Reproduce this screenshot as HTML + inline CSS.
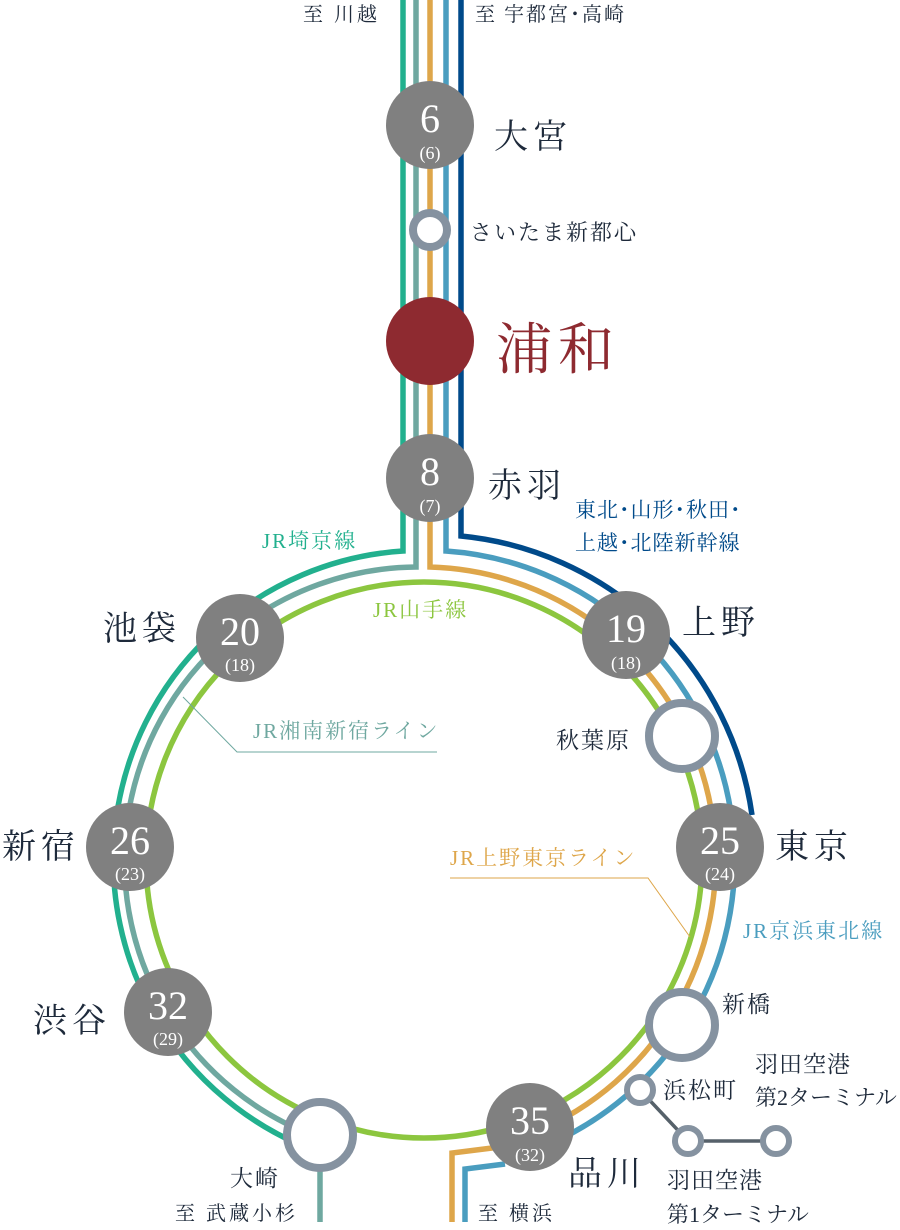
<!DOCTYPE html>
<html><head><meta charset="utf-8"><style>
html,body{margin:0;padding:0;background:#fff;}
svg{display:block;}
text{font-family:"Liberation Serif","Noto Serif CJK JP","Noto Serif CJK SC",serif;}
.st{fill:#1e2a3b;font-size:34px;letter-spacing:5px;}
.sm{fill:#1e2a3b;font-size:21px;letter-spacing:2px;}
.num{fill:#fff;font-size:40px;text-anchor:middle;}
.par{fill:#fff;font-size:18px;text-anchor:middle;}
</style></head><body>
<svg width="900" height="1230" viewBox="0 0 900 1230" xmlns="http://www.w3.org/2000/svg">
<g fill="none" stroke-width="5.5">
 <path d="M403,0 V551 A310,310 0 0 0 327,1155" stroke="#22b08e"/>
 <path d="M416,0 V567 A294,294 0 0 0 320,1138" stroke="#6fa8a0"/>
 <path d="M430,0 V567 A294,294 0 0 1 533,1133" stroke="#dea64a"/>
 <path d="M446,0 V551 A310,310 0 0 1 540,1148" stroke="#4a9dbf"/>
 <path d="M461,0 V536 A326,326 0 0 1 752,815" stroke="#004a8a"/>
 <circle cx="424" cy="860" r="278" stroke="#8cc63f"/>
 <path d="M500,1147 L452,1153 V1222" stroke="#dea64a"/>
 <path d="M505,1164 L465,1169 V1222" stroke="#4a9dbf"/>
 <path d="M320,1135 V1222" stroke="#6fa8a0"/>
 <path d="M640,1090 L688,1141 H776" stroke="#56616a" stroke-width="3.5"/>
 <path d="M437,752 H237 L183,697" stroke="#6fa8a0" stroke-width="1"/>
 <path d="M450,878 H648 L690,937" stroke="#dea64a" stroke-width="1"/>
</g>
<g fill="#fff" stroke="#8592a0" stroke-width="8">
 <circle cx="430" cy="230" r="17"/>
 <circle cx="682" cy="736" r="33"/>
 <circle cx="682" cy="1025" r="33"/>
 <circle cx="320" cy="1135" r="33"/>
 <circle cx="640" cy="1090" r="13" stroke-width="6"/>
 <circle cx="688" cy="1141" r="13" stroke-width="6"/>
 <circle cx="776" cy="1141" r="13" stroke-width="6"/>
</g>
<g fill="#808080">
 <circle cx="430" cy="125" r="44"/>
 <circle cx="430" cy="478" r="44"/>
 <circle cx="240" cy="638" r="44"/>
 <circle cx="626" cy="635" r="44"/>
 <circle cx="130" cy="847" r="44"/>
 <circle cx="720" cy="847" r="44"/>
 <circle cx="168" cy="1012" r="44"/>
 <circle cx="530" cy="1127" r="44"/>
</g>
<circle cx="430" cy="341" r="44" fill="#8e2a30"/>
<text class="num" x="430" y="132">6</text><text class="par" x="430" y="159">(6)</text>
<text class="num" x="430" y="485">8</text><text class="par" x="430" y="512">(7)</text>
<text class="num" x="240" y="645">20</text><text class="par" x="240" y="671">(18)</text>
<text class="num" x="626" y="642">19</text><text class="par" x="626" y="669">(18)</text>
<text class="num" x="130" y="854">26</text><text class="par" x="130" y="880">(23)</text>
<text class="num" x="720" y="854">25</text><text class="par" x="720" y="880">(24)</text>
<text class="num" x="168" y="1019">32</text><text class="par" x="168" y="1045">(29)</text>
<text class="num" x="530" y="1134">35</text><text class="par" x="530" y="1161">(32)</text>
<text class="st" x="494" y="148">大宮</text>
<text class="sm" x="470" y="240" style="font-size:22px">さいたま新都心</text>
<text x="496" y="369" style="fill:#8e2a30;font-size:56px;letter-spacing:6px">浦和</text>
<text class="st" x="488" y="497">赤羽</text>
<text class="st" x="103" y="640">池袋</text>
<text class="st" x="682" y="634">上野</text>
<text class="sm" x="556" y="748" style="font-size:23px">秋葉原</text>
<text class="st" x="2" y="858">新宿</text>
<text class="st" x="775" y="858">東京</text>
<text class="st" x="33" y="1032">渋谷</text>
<text class="sm" x="722" y="1012" style="font-size:23px">新橋</text>
<text class="sm" x="663" y="1098" style="font-size:23px">浜松町</text>
<text class="sm" x="755" y="1072" style="font-size:23px;letter-spacing:1px">羽田空港</text>
<text class="sm" x="755" y="1105" style="font-size:22px;letter-spacing:0">第2ターミナル</text>
<text class="sm" x="667" y="1188" style="font-size:23px;letter-spacing:1px">羽田空港</text>
<text class="sm" x="667" y="1222" style="font-size:22px;letter-spacing:0">第1ターミナル</text>
<text class="st" x="568" y="1185">品川</text>
<text class="sm" x="230" y="1186" style="font-size:23px">大崎</text>
<text class="sm" x="303" y="21" style="font-size:20px;letter-spacing:3px">至 川越</text>
<text class="sm" x="475" y="21" style="font-size:20px;letter-spacing:2px">至 宇都宮･高崎</text>
<text class="sm" x="175" y="1220" style="font-size:20px;letter-spacing:3px">至 武蔵小杉</text>
<text class="sm" x="478" y="1220" style="font-size:20px;letter-spacing:3px">至 横浜</text>
<text x="262" y="548" style="fill:#22b08e;font-size:21px;letter-spacing:2px">JR埼京線</text>
<text x="373" y="617" style="fill:#8cc63f;font-size:21px;letter-spacing:2px">JR山手線</text>
<text x="253" y="738" style="fill:#6fa8a0;font-size:21px;letter-spacing:2px">JR湘南新宿ライン</text>
<text x="450" y="865" style="fill:#dea64a;font-size:21px;letter-spacing:2px">JR上野東京ライン</text>
<text x="743" y="938" style="fill:#4a9dbf;font-size:21px;letter-spacing:2px">JR京浜東北線</text>
<text x="575" y="517" style="fill:#004a8a;font-size:21px;letter-spacing:1px">東北･山形･秋田･</text>
<text x="575" y="550" style="fill:#004a8a;font-size:21px;letter-spacing:1px">上越･北陸新幹線</text>
</svg>
</body></html>
